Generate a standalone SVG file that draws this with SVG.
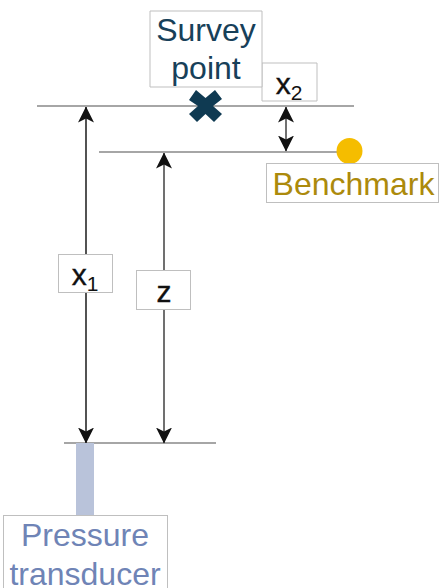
<svg xmlns="http://www.w3.org/2000/svg" width="439" height="588" viewBox="0 0 439 588">
<style>
text{font-family:"Liberation Sans",Arial,sans-serif;text-anchor:middle}
.box{fill:#fff;stroke:#bfbfbf;stroke-width:1}
.lvl{stroke:#a6a6a6;stroke-width:2;fill:none}
.dim{stroke:#404040;stroke-width:1.500;fill:none;marker-start:url(#ah);marker-end:url(#ah)}
.big{font-size:32px}
.math{font-size:30px;fill:#111;stroke:#111;stroke-width:.4px}
.sub{font-size:21px;stroke-width:0}
</style>
<defs>
<marker id="ah" viewBox="0 0 16 16" refX="15.500" refY="8" markerWidth="16" markerHeight="16" markerUnits="userSpaceOnUse" orient="auto-start-reverse">
<path d="M0 0L16 8L0 16L4 8Z" fill="#111"/>
</marker>
</defs>
<g id="connectors">
<line class="lvl" x1="37" y1="106" x2="354" y2="106"/>
<line class="lvl" x1="99" y1="152" x2="340" y2="152"/>
<line class="lvl" x1="64" y1="443" x2="216" y2="443"/>
<line class="dim" style="stroke-width:1.800" x1="86" y1="107" x2="86" y2="443"/>
<line class="dim" x1="164" y1="153" x2="164" y2="443"/>
<line class="dim" x1="286" y1="107" x2="286" y2="151"/>
</g>
<g id="x2"><path class="box" d="M262 63H317V101H262Z"/><text class="math" x="289" y="94">x<tspan class="sub" dy="6">2</tspan></text></g>
<g id="survey-point"><path class="box" d="M150 11H262V87H150Z"/><text class="big" x="206" y="41" fill="#174059">Survey</text><text class="big" x="206" y="79" fill="#174059">point</text></g>
<g id="survey-mark"><path d="M189 100L196 90L205.500 98L215 90L222 99L213 106L222 114L214 122L205.500 114L197 122L189 114L198 106Z" fill="#0f3a52"/></g>
<g id="benchmark-dot"><circle cx="349.500" cy="151" r="13" fill="#f5bd00"/></g>
<g id="benchmark"><rect class="box" x="266.500" y="163.500" width="172" height="39"/><text class="big" x="353.500" y="195" fill="#ac8a0c">Benchmark</text></g>
<g id="x1"><rect class="box" x="58.500" y="254.500" width="54" height="38"/><text class="math" x="85" y="285">x<tspan class="sub" dy="6">1</tspan></text></g>
<g id="z"><rect class="box" x="136.500" y="270.500" width="54" height="39"/><text class="math" x="164" y="302">z</text></g>
<g id="pressure-bar"><rect x="76" y="443" width="18" height="73" fill="#b9c3da"/></g>
<g id="pressure-transducer"><rect class="box" x="3.500" y="515.500" width="164" height="80"/><text class="big" x="85" y="546" fill="#6f84b6">Pressure</text><text class="big" x="85" y="585" fill="#6f84b6">transducer</text></g>
</svg>
